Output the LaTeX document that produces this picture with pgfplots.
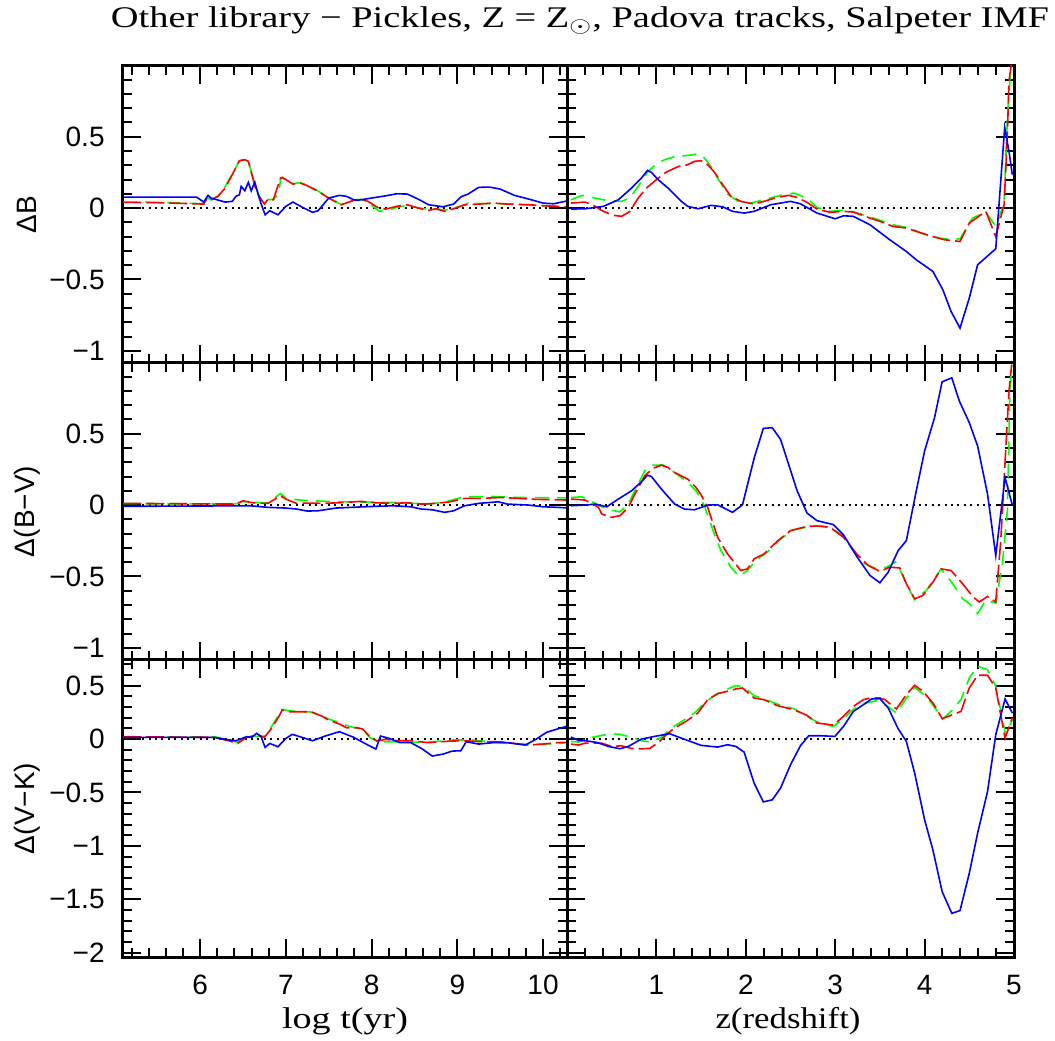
\documentclass[border=0pt]{standalone}
\usepackage{fontspec}
\setmainfont{Liberation Sans}
\newfontfamily\seriff{Liberation Serif}
\usepackage{graphicx}
\usepackage{pgfplots}
\pgfplotsset{compat=1.18}
\definecolor{cb}{RGB}{0,0,255}
\definecolor{cr}{RGB}{255,0,0}
\definecolor{cg}{RGB}{0,255,0}
\pgfplotsset{
  panel/.style={
    scale only axis,
    tick align=inside,
    xtick pos=both, ytick pos=both,
    xticklabel pos=lower, yticklabel pos=left,
    major tick length=9pt, minor tick length=4.5pt,
    every tick/.style={black, line width=1pt},
    axis line style={line width=1.5pt},
    tick label style={font=\fontsize{14}{14}\selectfont},
    xticklabel style={inner sep=0pt, yshift=-9pt},
    yticklabel style={inner sep=0pt, xshift=-9pt},
    ylabel style={at={(axis description cs:-0.216,0.5)}, anchor=center, font=\fontsize{14}{14}\selectfont},
    clip=true,
  },
  leftp/.style={panel, width=222pt, xmin=5.1, xmax=10.28, xtick={6,7,8,9,10}, minor xtick={5.2,5.4,...,10.2}},
  rightp/.style={panel, width=223.5pt, xmin=0, xmax=5, xtick={0,1,2,3,4,5}, minor xtick={0.2,0.4,...,4.8}},
  rowa/.style={height=148.5pt, ymin=-1.085, ymax=0.995, ytick={-1,-0.5,0,0.5}, minor ytick={-1,-0.9,...,0.9}},
  rowc/.style={height=148.5pt, ymin=-2.04, ymax=0.74, ytick={-2,-1.5,-1,-0.5,0,0.5}, minor ytick={-2,-1.9,...,0.7}},
  gline/.style={cg, line width=0.8pt, dash pattern=on 7pt off 4pt},
  rline/.style={cr, line width=0.8pt, dash pattern=on 9pt off 2.5pt},
  bline/.style={cb, line width=0.8pt},
  zline/.style={black, line width=1pt, dash pattern=on 1pt off 2.2pt},
}
\begin{document}
\begin{tikzpicture}
\useasboundingbox (0,0) rectangle (527.5pt,520pt);
% ---------------- top left
\begin{axis}[leftp, rowa, at={(61.5pt,338.5pt)}, anchor=south west,
  xticklabels={}, yticklabels={−1,−0.5,0,0.5}, ylabel={ΔB}]
\addplot[zline] coordinates {(5.1,0)(10.28,0)};
\addplot[gline] coordinates {(5.104,0.042)(5.5,0.040)(6.042,0.030)(6.083,0.072)(6.125,0.058)(6.208,0.085)(6.292,0.150)(6.375,0.240)(6.458,0.330)(6.521,0.337)(6.5625,0.325)(6.604,0.240)(6.646,0.150)(6.6875,0.085)(6.75,0.030)(6.792,0.060)(6.854,0.060)(6.917,0.100)(6.9375,0.200)(6.958,0.212)(7.0,0.197)(7.083,0.170)(7.167,0.178)(7.25,0.160)(7.375,0.120)(7.5,0.072)(7.646,0.025)(7.792,0.056)(7.875,0.062)(7.958,0.040)(8.083,-0.020)(8.167,-0.023)(8.292,0.005)(8.417,0.020)(8.542,0.002)(8.667,-0.010)(8.75,-0.005)(8.854,-0.015)(8.958,0.0)(9.083,0.020)(9.125,0.035)(9.25,0.030)(9.417,0.033)(9.583,0.028)(9.833,0.023)(10.0,0.018)(10.167,0.012)(10.28,0.01)};
\addplot[rline] coordinates {(5.104,0.040)(5.5,0.038)(6.042,0.028)(6.083,0.070)(6.125,0.056)(6.208,0.082)(6.292,0.140)(6.375,0.234)(6.458,0.332)(6.521,0.339)(6.5625,0.327)(6.604,0.234)(6.646,0.140)(6.6875,0.082)(6.75,0.028)(6.792,0.063)(6.854,0.058)(6.9375,0.210)(6.958,0.215)(7.0,0.199)(7.083,0.168)(7.167,0.175)(7.25,0.157)(7.375,0.117)(7.5,0.070)(7.646,0.023)(7.792,0.054)(7.875,0.063)(7.958,0.047)(8.083,0.0)(8.167,-0.007)(8.292,0.012)(8.417,0.023)(8.542,0.0)(8.667,-0.016)(8.75,-0.005)(8.854,-0.023)(8.958,-0.005)(9.083,0.023)(9.25,0.028)(9.417,0.035)(9.583,0.028)(9.833,0.023)(10.0,0.016)(10.167,0.012)(10.28,0.01)};
\addplot[bline] coordinates {(5.104,0.077)(5.958,0.077)(6.042,0.042)(6.092,0.089)(6.125,0.070)(6.167,0.063)(6.292,0.042)(6.375,0.047)(6.417,0.082)(6.458,0.093)(6.479,0.152)(6.521,0.121)(6.5625,0.180)(6.596,0.121)(6.6375,0.182)(6.667,0.117)(6.708,0.035)(6.758,-0.047)(6.8125,-0.019)(6.908,-0.047)(7.0,0.012)(7.083,0.042)(7.1875,0.007)(7.3125,-0.030)(7.375,-0.019)(7.5,0.070)(7.625,0.089)(7.708,0.082)(7.792,0.058)(7.833,0.054)(8.0,0.070)(8.167,0.086)(8.292,0.100)(8.417,0.098)(8.542,0.063)(8.667,0.023)(8.833,0.009)(8.958,0.028)(9.042,0.079)(9.125,0.098)(9.25,0.145)(9.375,0.147)(9.5,0.133)(9.667,0.089)(9.833,0.063)(10.0,0.035)(10.125,0.030)(10.28,0.05)};
\end{axis}
% ---------------- top right
\begin{axis}[rightp, rowa, at={(283.5pt,338.5pt)}, anchor=south west,
  xticklabels={}, yticklabels={}]
\addplot[zline] coordinates {(0,0)(5,0)};
\addplot[gline] coordinates {(0.044,0.058)(0.167,0.089)(0.315,0.070)(0.463,0.051)(0.611,0.047)(0.704,0.070)(0.796,0.152)(0.907,0.257)(1.0,0.308)(1.093,0.339)(1.204,0.360)(1.352,0.369)(1.463,0.379)(1.537,0.350)(1.611,0.290)(1.685,0.210)(1.796,0.098)(1.907,0.051)(2.056,0.035)(2.241,0.065)(2.389,0.089)(2.537,0.105)(2.685,0.070)(2.796,0.005)(2.944,-0.023)(3.130,-0.014)(3.278,-0.040)(3.463,-0.077)(3.648,-0.117)(3.833,-0.140)(3.981,-0.180)(4.167,-0.210)(4.315,-0.222)(4.396,-0.215)(4.537,-0.070)(4.685,-0.028)(4.796,-0.129)(4.889,0.035)(4.926,0.630)(4.963,0.98)};
\addplot[rline] coordinates {(0.044,0.035)(0.204,0.042)(0.315,0.012)(0.407,-0.023)(0.519,-0.051)(0.611,-0.058)(0.704,-0.023)(0.796,0.070)(0.889,0.140)(1.0,0.199)(1.111,0.252)(1.241,0.290)(1.352,0.304)(1.426,0.327)(1.5,0.332)(1.574,0.304)(1.648,0.252)(1.741,0.164)(1.833,0.082)(1.944,0.047)(2.093,0.028)(2.241,0.054)(2.352,0.075)(2.481,0.089)(2.574,0.075)(2.685,0.040)(2.796,-0.007)(2.944,-0.030)(3.093,-0.023)(3.204,-0.028)(3.333,-0.058)(3.5,-0.093)(3.648,-0.129)(3.796,-0.140)(3.944,-0.171)(4.093,-0.200)(4.222,-0.222)(4.396,-0.234)(4.5,-0.105)(4.685,-0.023)(4.796,-0.200)(4.889,0.023)(4.926,0.514)(4.944,0.89)(4.981,1.05)};
\addplot[bline] coordinates {(0.044,-0.007)(0.204,-0.005)(0.407,0.012)(0.574,0.058)(0.722,0.140)(0.833,0.210)(0.9,0.264)(0.944,0.250)(1.019,0.199)(1.130,0.140)(1.278,0.047)(1.352,0.012)(1.463,-0.005)(1.611,0.019)(1.741,0.009)(1.852,-0.023)(1.981,-0.035)(2.093,-0.023)(2.278,0.023)(2.5,0.047)(2.611,0.030)(2.796,-0.035)(3.0,-0.075)(3.093,-0.054)(3.204,-0.058)(3.389,-0.117)(3.611,-0.222)(3.796,-0.304)(3.907,-0.362)(4.093,-0.444)(4.204,-0.572)(4.296,-0.724)(4.396,-0.841)(4.5,-0.630)(4.593,-0.397)(4.796,-0.285)(4.896,0.565)(4.944,0.397)(4.981,0.234)};
\end{axis}
% ---------------- middle left
\begin{axis}[leftp, rowa, at={(61.5pt,190pt)}, anchor=south west,
  xticklabels={}, yticklabels={−1,−0.5,0,0.5}, ylabel={Δ(B−V)}]
\addplot[zline] coordinates {(5.1,0)(10.28,0)};
\addplot[gline] coordinates {(5.104,0.010)(6.417,0.008)(6.5,0.025)(6.583,0.020)(6.792,0.015)(6.9375,0.081)(7.0,0.050)(7.125,0.037)(7.292,0.030)(7.625,0.023)(7.875,0.020)(8.25,0.019)(8.667,0.007)(8.833,0.019)(9.083,0.058)(9.417,0.060)(9.708,0.053)(10.167,0.051)(10.28,0.05)};
\addplot[rline] coordinates {(5.104,0.012)(6.417,0.007)(6.5,0.030)(6.583,0.019)(6.667,0.012)(6.792,0.012)(6.9375,0.065)(7.0,0.042)(7.125,0.012)(7.25,0.014)(7.417,0.012)(7.625,0.016)(7.875,0.026)(8.042,0.016)(8.25,0.012)(8.417,0.016)(8.583,0.007)(8.75,0.012)(8.917,0.023)(9.083,0.047)(9.292,0.047)(9.5,0.053)(9.708,0.047)(9.917,0.040)(10.167,0.037)(10.28,0.035)};
\addplot[bline] coordinates {(5.104,-0.009)(6.583,-0.005)(6.792,-0.016)(7.0,-0.021)(7.125,-0.028)(7.25,-0.042)(7.375,-0.040)(7.583,-0.021)(7.833,-0.014)(8.042,-0.009)(8.25,-0.005)(8.458,-0.012)(8.583,-0.028)(8.708,-0.033)(8.854,-0.051)(8.958,-0.040)(9.083,-0.005)(9.25,0.012)(9.479,0.023)(9.583,0.007)(9.833,0.0)(10.0,-0.012)(10.167,-0.016)(10.28,-0.02)};
\end{axis}
% ---------------- middle right
\begin{axis}[rightp, rowa, at={(283.5pt,190pt)}, anchor=south west,
  xticklabels={}, yticklabels={}]
\addplot[zline] coordinates {(0,0)(5,0)};
\addplot[gline] coordinates {(0.044,0.053)(0.167,0.058)(0.315,0.012)(0.389,-0.012)(0.463,-0.033)(0.593,-0.047)(0.685,0.007)(0.759,0.100)(0.870,0.240)(0.963,0.279)(1.074,0.281)(1.204,0.228)(1.352,0.158)(1.444,0.100)(1.537,-0.005)(1.648,-0.202)(1.722,-0.319)(1.833,-0.435)(1.926,-0.500)(2.019,-0.458)(2.111,-0.388)(2.241,-0.330)(2.389,-0.237)(2.537,-0.174)(2.759,-0.144)(2.944,-0.156)(3.093,-0.214)(3.241,-0.353)(3.333,-0.412)(3.463,-0.447)(3.574,-0.435)(3.685,-0.395)(3.796,-0.551)(3.889,-0.663)(4.019,-0.598)(4.185,-0.447)(4.315,-0.551)(4.426,-0.656)(4.5,-0.691)(4.593,-0.760)(4.685,-0.667)(4.796,-0.686)(4.870,-0.412)(4.926,-0.040)(4.952,0.728)(4.974,0.984)};
\addplot[rline] coordinates {(0.044,0.042)(0.204,0.035)(0.352,-0.016)(0.389,-0.063)(0.5,-0.086)(0.593,-0.074)(0.685,-0.016)(0.759,0.077)(0.870,0.205)(0.963,0.258)(1.056,0.279)(1.130,0.263)(1.204,0.228)(1.352,0.181)(1.444,0.123)(1.5,0.072)(1.574,-0.016)(1.685,-0.226)(1.796,-0.342)(1.944,-0.458)(2.019,-0.447)(2.093,-0.377)(2.204,-0.342)(2.352,-0.253)(2.5,-0.179)(2.685,-0.149)(2.833,-0.147)(2.944,-0.156)(3.093,-0.226)(3.241,-0.342)(3.370,-0.423)(3.5,-0.465)(3.611,-0.435)(3.722,-0.440)(3.796,-0.551)(3.889,-0.656)(3.981,-0.633)(4.093,-0.540)(4.185,-0.447)(4.296,-0.458)(4.426,-0.551)(4.537,-0.640)(4.611,-0.679)(4.704,-0.640)(4.796,-0.679)(4.852,-0.249)(4.907,0.379)(4.944,0.798)(4.974,0.984)};
\addplot[bline] coordinates {(0.044,-0.005)(0.204,0.0)(0.315,0.007)(0.444,-0.012)(0.574,0.042)(0.722,0.100)(0.833,0.163)(0.9,0.209)(0.944,0.200)(1.056,0.112)(1.204,0.007)(1.315,-0.028)(1.426,-0.033)(1.574,0.0)(1.685,0.002)(1.852,-0.051)(1.963,0.002)(2.093,0.328)(2.196,0.537)(2.296,0.542)(2.389,0.460)(2.574,0.100)(2.685,-0.056)(2.796,-0.109)(2.981,-0.137)(3.093,-0.209)(3.241,-0.360)(3.389,-0.493)(3.5,-0.544)(3.593,-0.470)(3.704,-0.319)(3.796,-0.249)(3.907,0.100)(4.0,0.379)(4.111,0.612)(4.196,0.863)(4.304,0.891)(4.389,0.728)(4.5,0.577)(4.593,0.414)(4.704,0.077)(4.796,-0.353)(4.9,0.193)(4.981,0.0)};
\end{axis}
% ---------------- bottom left
\begin{axis}[leftp, rowc, at={(61.5pt,41.5pt)}, anchor=south west,
  xticklabels={6,7,8,9,10}, yticklabels={−2,−1.5,−1,−0.5,0,0.5}, ylabel={Δ(V−K)}]
\addplot[zline] coordinates {(5.1,0)(10.28,0)};
\addplot[gline] coordinates {(5.104,0.016)(6.167,0.022)(6.333,-0.009)(6.4375,-0.031)(6.5625,0.038)(6.667,0.022)(6.758,0.028)(6.833,0.116)(6.958,0.278)(7.042,0.263)(7.292,0.253)(7.417,0.219)(7.5,0.188)(7.75,0.116)(7.896,0.091)(7.979,0.016)(8.083,-0.028)(8.25,-0.025)(8.458,-0.031)(8.667,-0.028)(8.958,-0.009)(9.167,-0.009)(9.417,-0.028)(9.667,-0.047)(9.833,-0.050)(10.0,-0.047)(10.167,-0.041)(10.28,-0.035)};
\addplot[rline] coordinates {(5.104,0.022)(6.167,0.016)(6.333,-0.016)(6.4375,-0.041)(6.542,0.016)(6.667,0.038)(6.75,0.016)(6.833,0.100)(6.917,0.209)(6.958,0.272)(7.042,0.256)(7.167,0.256)(7.292,0.256)(7.417,0.216)(7.5,0.178)(7.625,0.141)(7.708,0.106)(7.833,0.106)(7.896,0.094)(7.979,0.022)(8.0625,-0.019)(8.167,-0.003)(8.292,-0.016)(8.458,-0.016)(8.667,-0.034)(8.917,-0.019)(9.083,-0.016)(9.292,-0.025)(9.5,-0.025)(9.667,-0.041)(9.833,-0.056)(10.0,-0.047)(10.167,-0.034)(10.28,-0.03)};
\addplot[bline] coordinates {(5.104,0.016)(6.167,0.016)(6.292,-0.003)(6.417,-0.016)(6.542,0.022)(6.604,0.016)(6.658,0.053)(6.708,0.028)(6.758,-0.078)(6.8125,-0.041)(6.908,-0.072)(7.0,0.006)(7.075,0.044)(7.1875,0.016)(7.3125,-0.016)(7.458,0.028)(7.625,0.069)(7.792,0.016)(7.958,-0.056)(8.05,-0.094)(8.104,0.028)(8.208,0.006)(8.333,-0.034)(8.458,-0.034)(8.583,-0.088)(8.708,-0.159)(8.833,-0.141)(8.9375,-0.113)(9.042,-0.109)(9.104,-0.025)(9.25,-0.047)(9.417,-0.034)(9.583,-0.034)(9.792,-0.056)(9.917,-0.003)(10.042,0.063)(10.167,0.094)(10.28,0.12)};
\end{axis}
% ---------------- bottom right
\begin{axis}[rightp, rowc, at={(283.5pt,41.5pt)}, anchor=south west,
  xticklabels={,1,2,3,4,5}, yticklabels={}]
\addplot[zline] coordinates {(0,0)(5,0)};
\addplot[gline] coordinates {(0.044,-0.022)(0.130,-0.028)(0.278,0.016)(0.389,0.034)(0.463,0.044)(0.574,0.047)(0.685,0.025)(0.833,-0.016)(0.944,-0.028)(1.056,0.016)(1.167,0.103)(1.315,0.181)(1.426,0.244)(1.537,0.338)(1.648,0.406)(1.759,0.456)(1.889,0.500)(1.981,0.484)(2.093,0.406)(2.241,0.363)(2.389,0.316)(2.537,0.284)(2.685,0.213)(2.833,0.144)(2.981,0.119)(3.093,0.188)(3.204,0.281)(3.352,0.338)(3.463,0.359)(3.574,0.313)(3.685,0.244)(3.796,0.384)(3.889,0.484)(4.019,0.400)(4.130,0.275)(4.204,0.188)(4.315,0.275)(4.407,0.369)(4.5,0.572)(4.593,0.681)(4.704,0.650)(4.796,0.494)(4.907,0.041)(4.981,0.181)};
\addplot[rline] coordinates {(0.044,-0.047)(0.130,-0.056)(0.204,-0.038)(0.389,-0.038)(0.5,-0.069)(0.611,-0.063)(0.722,-0.088)(0.833,-0.091)(0.926,-0.088)(1.037,-0.022)(1.130,0.056)(1.204,0.103)(1.333,0.166)(1.463,0.244)(1.574,0.369)(1.685,0.425)(1.796,0.447)(1.889,0.469)(1.963,0.478)(2.093,0.384)(2.204,0.369)(2.352,0.313)(2.537,0.275)(2.685,0.222)(2.796,0.150)(2.981,0.131)(3.093,0.213)(3.204,0.306)(3.315,0.369)(3.389,0.384)(3.5,0.384)(3.556,0.369)(3.685,0.281)(3.796,0.416)(3.889,0.503)(3.981,0.447)(4.093,0.338)(4.196,0.191)(4.315,0.228)(4.407,0.259)(4.5,0.478)(4.593,0.597)(4.704,0.597)(4.796,0.478)(4.9,0.009)(4.981,0.197)};
\addplot[bline] coordinates {(0.044,0.019)(0.130,-0.013)(0.204,-0.016)(0.333,-0.031)(0.463,-0.069)(0.593,-0.091)(0.685,-0.069)(0.833,0.0)(0.981,0.025)(1.148,0.050)(1.278,0.009)(1.389,-0.025)(1.5,-0.059)(1.685,-0.075)(1.796,-0.053)(1.889,-0.069)(1.981,-0.122)(2.093,-0.413)(2.196,-0.588)(2.296,-0.569)(2.389,-0.459)(2.5,-0.241)(2.611,-0.063)(2.704,0.031)(2.833,0.031)(2.996,0.025)(3.093,0.119)(3.204,0.259)(3.315,0.322)(3.407,0.375)(3.5,0.378)(3.593,0.291)(3.704,0.097)(3.796,-0.022)(3.889,-0.319)(4.0,-0.756)(4.093,-1.038)(4.196,-1.428)(4.304,-1.631)(4.396,-1.606)(4.5,-1.256)(4.593,-0.881)(4.704,-0.491)(4.796,0.041)(4.9,0.375)(4.981,0.244)};
\end{axis}
% ---------------- titles
\node[anchor=base, inner sep=0pt, font=\seriff\fontsize{15}{15}\selectfont] at (290pt,506pt)
  {\resizebox{469pt}{\height}{Other library − Pickles, Z = Z$_{\odot}$, Padova tracks, Salpeter IMF}};
\node[anchor=base, inner sep=0pt, font=\seriff\fontsize{15}{15}\selectfont] at (172.5pt,6pt)
  {\resizebox{63pt}{\height}{log t(yr)}};
\node[anchor=base, inner sep=0pt, font=\seriff\fontsize{15}{15}\selectfont] at (394pt,6pt)
  {\resizebox{72.5pt}{\height}{z(redshift)}};
\end{tikzpicture}
\end{document}
